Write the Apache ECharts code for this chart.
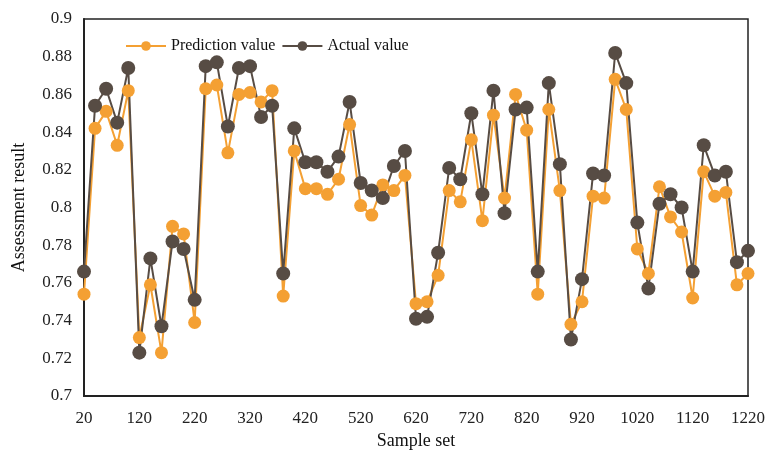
<!DOCTYPE html>
<html>
<head>
<meta charset="utf-8">
<script src="https://cdn.jsdelivr.net/npm/echarts@6/dist/echarts.min.js"></script>
<style>html,body{margin:0;padding:0;background:#fff;}#c{width:766px;height:457px;}</style>
</head>
<body>
<div id="c"></div>
<script>
var sampleSet = [20,40,60,80,100,120,140,160,180,200,220,240,260,280,300,320,340,360,380,400,
  420,440,460,480,500,520,540,560,580,600,620,640,660,680,700,720,740,760,780,800,
  820,840,860,880,900,920,940,960,980,1000,1020,1040,1060,1080,1100,1120,1140,1160,1180,1200,1220];
var predictionValue = [0.754,0.842,0.851,0.833,0.862,0.731,0.759,0.723,0.790,0.786,
  0.739,0.863,0.865,0.829,0.860,0.861,0.856,0.862,0.753,0.830,
  0.810,0.810,0.807,0.815,0.844,0.801,0.796,0.812,0.809,0.817,
  0.749,0.750,0.764,0.809,0.803,0.836,0.793,0.849,0.805,0.860,
  0.841,0.754,0.852,0.809,0.738,0.750,0.806,0.805,0.868,0.852,
  0.778,0.765,0.811,0.795,0.787,0.752,0.819,0.806,0.808,0.759,0.765];
var actualValue = [0.766,0.854,0.863,0.845,0.874,0.723,0.773,0.737,0.782,0.778,
  0.751,0.875,0.877,0.843,0.874,0.875,0.848,0.854,0.765,0.842,
  0.824,0.824,0.819,0.827,0.856,0.813,0.809,0.805,0.822,0.830,
  0.741,0.742,0.776,0.821,0.815,0.850,0.807,0.862,0.797,0.852,
  0.853,0.766,0.866,0.823,0.730,0.762,0.818,0.817,0.882,0.866,
  0.792,0.757,0.802,0.807,0.800,0.766,0.833,0.817,0.819,0.771,0.777];

var font = 'Liberation Serif';
var chart = echarts.init(document.getElementById('c'));
chart.setOption({
  animation: false,
  backgroundColor: '#fff',
  textStyle: {fontFamily: font},
  grid: {left: 84, right: 18, top: 19, bottom: 61, containLabel: false, outerBoundsMode: 'none',
         show: true, borderColor: '#222', borderWidth: 1.5},
  legend: {
    left: 120, top: 33, itemWidth: 40, itemHeight: 12, itemGap: 6,
    textStyle: {fontFamily: font, fontSize: 16, color: '#111'},
    data: ['Prediction value', 'Actual value']
  },
  xAxis: {
    type: 'category', data: sampleSet, boundaryGap: false,
    name: 'Sample set', nameLocation: 'middle', nameGap: 36,
    nameTextStyle: {fontFamily: font, fontSize: 18, color: '#111'},
    axisLine: {lineStyle: {color: '#222', width: 2}},
    axisTick: {show: false},
    axisLabel: {interval: 4, fontFamily: font, fontSize: 17, color: '#222', margin: 14},
    splitLine: {show: false}
  },
  yAxis: {
    type: 'value', min: 0.7, max: 0.9, interval: 0.02,
    name: 'Assessment result', nameLocation: 'middle', nameGap: 56,
    nameTextStyle: {fontFamily: font, fontSize: 18, color: '#111'},
    axisLine: {show: true, lineStyle: {color: '#222', width: 2}},
    axisTick: {show: false},
    axisLabel: {fontFamily: font, fontSize: 17, color: '#222', margin: 12},
    splitLine: {show: false}
  },
  series: [
    {
      name: 'Prediction value', type: 'line', data: predictionValue,
      symbol: 'circle', symbolSize: 13, showSymbol: true, showAllSymbol: true,
      itemStyle: {color: '#F4A033'},
      lineStyle: {color: '#F4A033', width: 2}
    },
    {
      name: 'Actual value', type: 'line', data: actualValue,
      symbol: 'circle', symbolSize: 14, showSymbol: true, showAllSymbol: true,
      itemStyle: {color: '#574C44'},
      lineStyle: {color: '#574C44', width: 2}
    }
  ]
});
</script>
</body>
</html>
